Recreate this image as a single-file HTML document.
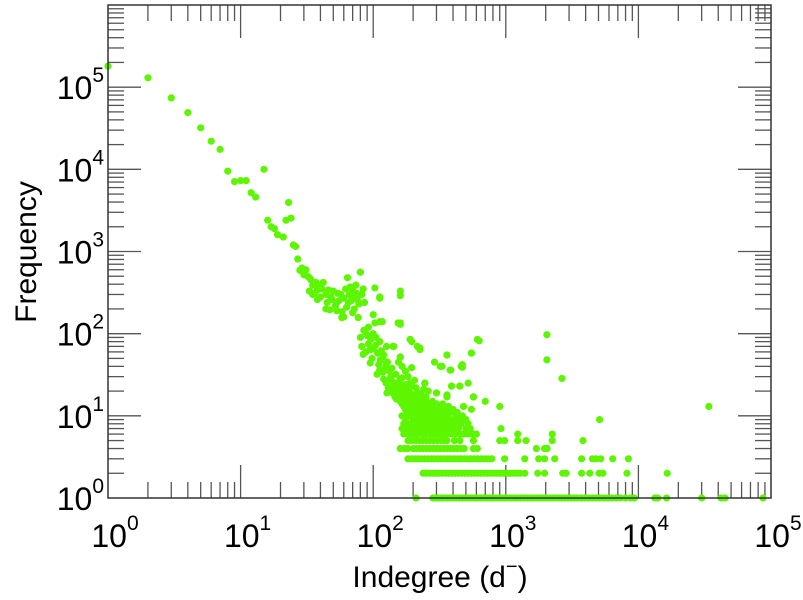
<!DOCTYPE html>
<html><head><meta charset="utf-8"><style>
html,body{margin:0;padding:0;background:#fff;}
svg{display:block;font-family:"Liberation Sans",Arial,sans-serif;}
</style></head><body>
<svg id="chart" width="803" height="600" viewBox="0 0 803 600" xmlns="http://www.w3.org/2000/svg">
<g id="ticks"></g>
<g id="dots"></g>
<rect x="108" y="5" width="663" height="493" fill="none" stroke="#333" stroke-width="1.5"/>
<g id="labels" font-size="32" fill="#000"></g>
<text transform="translate(36,252) rotate(-90)" text-anchor="middle" font-size="30" fill="#000">Frequency</text>
<text x="440" y="587" text-anchor="middle" font-size="30" fill="#000">Indegree (d<tspan font-size="20" dy="-14">−</tspan><tspan font-size="30" dy="14">)</tspan></text>
</svg>
<script>
const xDecades = [0,1,2,3,4,5];
const yDecades = [0,1,2,3,4,5];
const headDeg = [1,2,3,4,5,6,7,8,9,10,11,12,13,15,16,17,18,19,21,22,23,24,25,26,27,29,31,33,36,38,35];
const headFreq = [180000,130000,74000,49000,32000,22000,17500,9500,7100,7300,7300,5200,4600,10000,2400,2000,1900,1600,1500,2400,3950,2550,1200,1150,810,630,600,480,390,340,300];
const row1 = [210,282,295,310,325,340,360,380,400,420,445,470,495,520,550,580,610,645,680,720,760,800,845,890,940,990,1050,1100,1170,1230,1300,1370,1450,1530,1610,1700,1800,1900,2000,2120,2240,2360,2500,2640,2790,2950,3120,3300,3480,3700,3950,4200,4500,4800,5100,5500,5900,6300,6800,7300,8000,8700,9300,13300,14000,16300,30000,42000,45000,87000];
const row2 = [238,250,265,280,295,312,330,350,370,392,415,440,465,492,520,550,582,616,650,690,730,770,815,860,910,965,1020,1080,1140,1210,1280,1390,1740,1960,2690,2850,3730,4300,5050,5400,8200,16500];
const row3 = [183,195,207,218,230,245,260,275,290,308,325,345,365,385,410,435,460,488,515,545,578,612,650,690,735,785,980,1390,1770,1960,2340,3730,4500,4800,5200,6400,8400];
const row4 = [160,172,182,200,212,225,238,252,268,285,302,320,340,360,382,405,430,458,485,570,610,1700,1960,2050];
const row5 = [183,195,208,222,236,252,268,285,305,325,345,360,410,450,570,900,980,1230,1420,2240,3820];
const row6 = [170,185,200,215,235,250,270,290,310,335,360,390,420,450,480,520,560,600,2240,1230];
const row7 = [165,180,195,210,225,245,265,285,305,330,355,380,410,440,500,540,920];
const row8 = [170,190,205,220,240,260,280,300,325,350,380,420,460,520];
const row9 = [175,200,215,230,250,270,295,320,345,370,400,450,500,5100];
const row10 = [165,185,210,225,245,265,290,315,340,365,420,470];
const row11 = [180,200,220,240,260,285,310,340,380,430];
const row12 = [175,195,215,235,255,280,310,350,400,550];
const row13 = [170,190,210,230,250,275,300,330,370,480,900,34000];
const row14 = [165,185,205,225,245,270,300,335];
const cloudDeg = [160,180,200,222,250,280,700,150,175,195,215,240,155,180,210,250,360,570,145,170,200,230,360,140,165,190,215,300,135,160,185,260,130,150,175,210,141,165,390,450,125,150,190,245,520,120,134,160,2650,
2040,2040,630,550,470,470,360,320,385,160,160,112,112,80,190,215,225,143,160,
28,30,35,42,36,46,45,49,47,58,58,64,67,69,75,65,82,80,77,54,40,103,112,100,103,117,160,160,
80,87,82,84,95,112,95,119,112,107,134,141,146,127,183,195,190,195,225,141,160,154,610,550,360,290,330,380,460,245,390,450,300,570,240,215];
const cloudFreq = [15,15,15,15,15,15,15,16,16,16,16,16,17,17,17,17,17,17,18,18,18,18,18,19,19,19,19,19,20,20,20,20,22,22,22,22,23,23,23,23,25,25,25,25,25,28,28,28,28.5,
97,48,82,58,42,39,55,40,36,330,130,270,140,560,85,70,64,70,52,
590,520,390,420,310,340,240,260,195,185,157,480,370,280,310,240,300,560,157,310,280,360,280,170,135,140,290,135,
90,105,70,56,64,80,44,48,36,32,28,23,17,19,30,38.6,85,80,67,70,52,135,85,58,55,45,40,36,40,25,23,23,19,17,21,19];
const clusterDeg = [30,32,34,37,39,41,44,48,50,52,55,57,60,62,66,68,70,72,74,76,78,84,86,63,53,44,38,33,70,60,
85,90,92,96,100,104,108,115,120,124,128,132,136,140,150,158,170,88,98,110,118,130,144,105,92,100,126,113,138,148,165,175,185,195,205,175,155,165];
const clusterFreq = [560,500,450,420,380,350,300,280,330,220,250,300,270,350,300,250,340,200,390,260,230,350,240,210,190,200,260,330,180,160,
110,95,75,85,65,72,58,62,55,40,45,35,30,26,22,26,21,60,50,42,34,27,20,90,120,100,70,48,38,32,29,24,20,23,27,35,45,40];

const X0=108, X1=771, Y0=498, Y1=5;
function xs(v){return X0+(Math.log10(v)-0)/5*(X1-X0);}
function ys(v){return Y0-(Math.log10(v)-0)/6*(Y0-Y1);}
const NS="http://www.w3.org/2000/svg";
const tg=document.getElementById('ticks');
function line(x1,y1,x2,y2,name){
  const l=document.createElementNS(NS,'line');
  l.setAttribute('x1',x1);l.setAttribute('y1',y1);l.setAttribute('x2',x2);l.setAttribute('y2',y2);
  l.setAttribute('stroke','#555');l.setAttribute('stroke-width','1.3');
  
  
  tg.appendChild(l);
}
for(let d=0;d<5;d++){for(let m=1;m<=9;m++){const v=m*Math.pow(10,d);const x=xs(v);const L=m===1?33:16;
  if(m===1&&d===0)continue;
  line(x,Y0,x,Y0-L,'x-tick');line(x,Y1,x,Y1+L,'x-tick-top');}}
for(let d=0;d<6;d++){for(let m=1;m<=9;m++){const v=m*Math.pow(10,d);const y=ys(v);const L=m===1?33:16;
  if(m===1&&d===0)continue;
  line(X0,y,X0+L,y,'y-tick');line(X1,y,X1-L,y,'y-tick-right');}}
const lg=document.getElementById('labels');
function lab(x,y,e,anchor,name){
  const t=document.createElementNS(NS,'text');
  t.setAttribute('x',x);t.setAttribute('y',y);t.setAttribute('text-anchor',anchor);
  
  
  const a=document.createElementNS(NS,'tspan');a.textContent='10';t.appendChild(a);
  const b=document.createElementNS(NS,'tspan');b.textContent=String(e);b.setAttribute('font-size','21');b.setAttribute('dy','-17');t.appendChild(b);
  lg.appendChild(t);
}
xDecades.forEach(e=>lab(xs(Math.pow(10,e))+7,547,e,'middle','x-tick-label'));
yDecades.forEach(e=>lab(104,ys(Math.pow(10,e))+12,e,'end','y-tick-label'));
const dg=document.getElementById('dots');
function dot(d,f){
  const c=document.createElementNS(NS,'circle');
  c.setAttribute('cx',xs(d));c.setAttribute('cy',ys(f));c.setAttribute('r','3.6');c.setAttribute('fill','#5ef500');
  
  
  dg.appendChild(c);
}
headDeg.forEach((d,i)=>dot(d,headFreq[i]));
[[row1,1],[row2,2],[row3,3],[row4,4],[row5,5],[row6,6],[row7,7],[row8,8],[row9,9],[row10,10],[row11,11],[row12,12],[row13,13],[row14,14]].forEach(([r,f])=>r.forEach(d=>dot(d,f)));
cloudDeg.forEach((d,i)=>dot(d,cloudFreq[i]));
clusterDeg.forEach((d,i)=>dot(d,clusterFreq[i]));
</script>
</body></html>
